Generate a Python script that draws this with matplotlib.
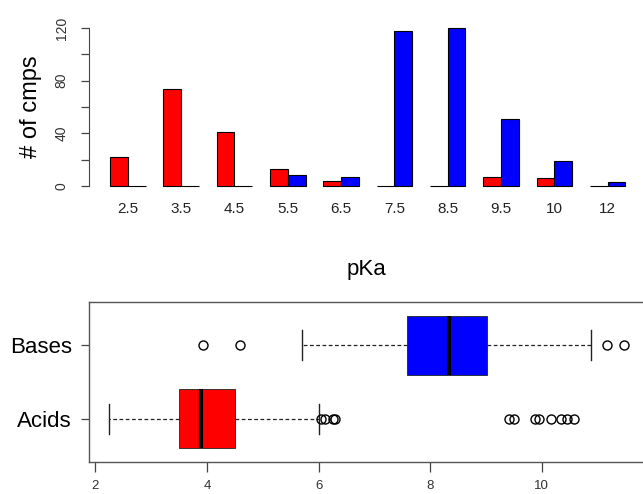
import numpy as np
import matplotlib
matplotlib.use("Agg")
import matplotlib.pyplot as plt

plt.rcParams['font.family'] = ['Liberation Sans', 'DejaVu Sans']

# histogram of pKa values (counts per bin)
bin_labels = ["2.5", "3.5", "4.5", "5.5", "6.5", "7.5", "8.5", "9.5", "10", "12"]
acid_counts = [22, 74, 41, 13, 4, 0, 0, 7, 6, 0]
base_counts = [0, 0, 0, 8, 7, 118, 120, 51, 19, 3]

# boxplot summaries
groups = ["Acids", "Bases"]
acid_stats = dict(whislo=2.25, q1=3.50, med=3.90, q3=4.50, whishi=6.0,
                  fliers=[6.05, 6.12, 6.25, 6.3, 9.41, 9.50, 9.87, 9.95,
                          10.16, 10.34, 10.45, 10.58])
base_stats = dict(whislo=5.70, q1=7.58, med=8.33, q3=9.01, whishi=10.89,
                  fliers=[3.92, 4.59, 11.17, 11.47])

W, H = 643, 494
fig = plt.figure(figsize=(W / 100, H / 100), dpi=100)


def px_rect(l, t, r, b):
    return [l / W, 1 - b / H, (r - l) / W, (b - t) / H]


# ---- top: grouped bars ----
ax1 = fig.add_axes(px_rect(89.4, 21.7, 646, 192.3))
n = len(bin_labels)
red_left = np.arange(n) * 3 + 1
ax1.bar(red_left, acid_counts, width=1, align='edge', color='#ff0000',
        edgecolor='black', linewidth=0.8)
ax1.bar(red_left + 1, base_counts, width=1, align='edge', color='#0000ff',
        edgecolor='black', linewidth=0.8)
ax1.set_xlim(-0.16, 31.16)
ax1.set_ylim(-4.8, 124.8)
ax1.set_xticks(red_left + 1)
ax1.set_xticklabels(bin_labels, fontsize=11, color='#222222')
ax1.tick_params(axis='x', length=0, pad=7)
ax1.set_yticks([0, 20, 40, 60, 80, 100, 120])
ax1.set_yticklabels(["0", "", "40", "", "80", "", "120"], rotation=90,
                    va='center', fontsize=10, color='#333333')
ax1.tick_params(axis='y', length=6, width=0.9, color='#444444', pad=9)
for s in ['top', 'right', 'bottom']:
    ax1.spines[s].set_visible(False)
ax1.spines['left'].set_bounds(0, 120)
ax1.spines['left'].set_color('#444444')
ax1.set_ylabel("# of cmps", fontsize=17, labelpad=9)

# ---- bottom: boxplots ----
ax2 = fig.add_axes(px_rect(88.7, 302.3, 644.5, 461.7))
stats = [acid_stats, base_stats]
bp = ax2.bxp(stats, positions=[1, 2], vert=False, widths=0.8, patch_artist=True,
             showfliers=True, capwidths=0.4,
             boxprops=dict(edgecolor='#222222', linewidth=0.6),
             medianprops=dict(color='black', linewidth=3, solid_capstyle='butt'),
             whiskerprops=dict(color='#222222', linestyle=(0, (3, 2)), linewidth=0.9),
             capprops=dict(color='#222222', linewidth=1),
             flierprops=dict(marker='o', markerfacecolor='none',
                             markeredgecolor='black', markersize=6.5,
                             markeredgewidth=1))
for patch, c in zip(bp['boxes'], ['#ff0000', '#0000ff']):
    patch.set_facecolor(c)
ax2.set_xlim(1.88, 11.84)
ax2.set_ylim(0.42, 2.58)
ax2.set_yticks([1, 2])
ax2.set_yticklabels(groups, fontsize=16)
ax2.tick_params(axis='y', length=6, width=0.9, color='#444444', pad=6)
ax2.set_xticks([2, 4, 6, 8, 10])
ax2.tick_params(axis='x', length=7.5, width=0.9, color='#444444', pad=6,
                labelsize=9.5, labelcolor='#333333')
for s in ax2.spines.values():
    s.set_color('#555555')
    s.set_linewidth(1)
ax2.spines['bottom'].set_visible(False)
ax2.plot([1.88, 11.84], [0.42, 0.42], color='#555555', lw=1, clip_on=False)
ax2.set_title("pKa", fontsize=16, pad=20)

fig.savefig("out.png", dpi=100)
